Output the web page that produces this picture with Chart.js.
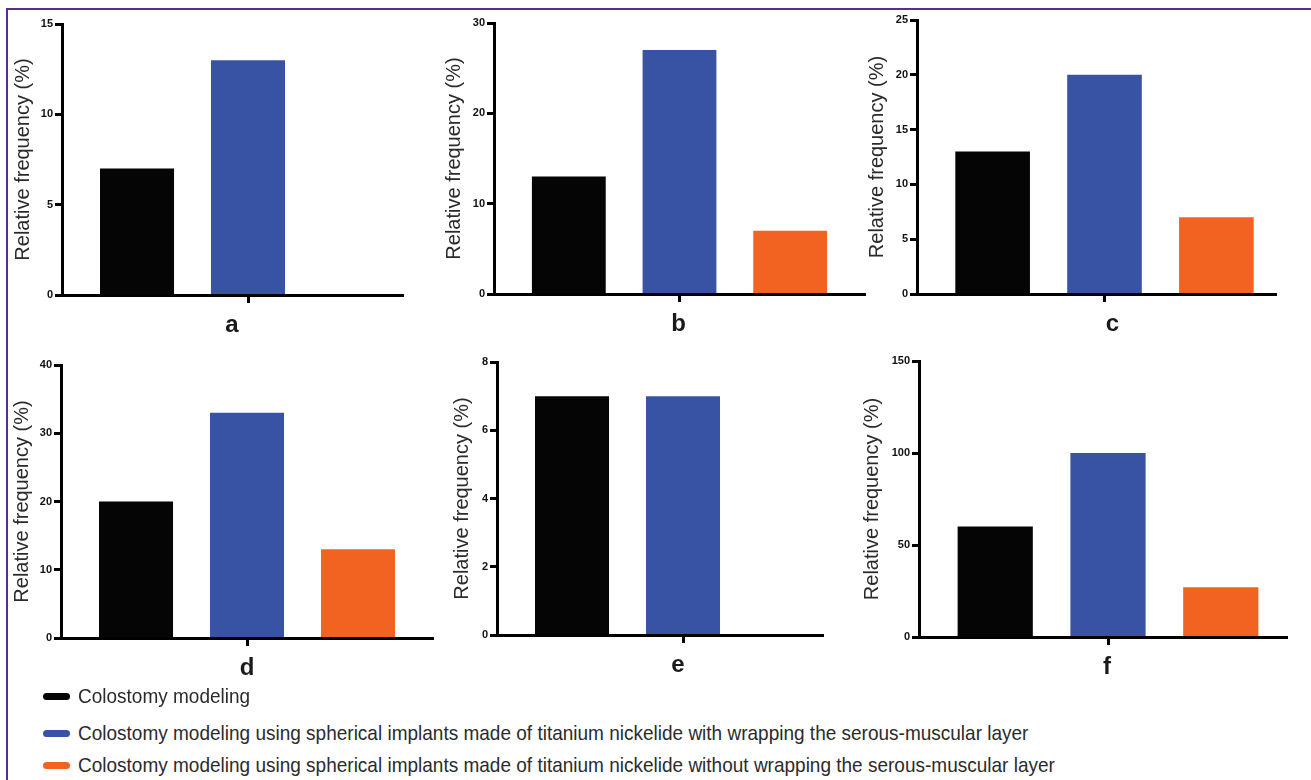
<!DOCTYPE html>
<html><head><meta charset="utf-8">
<script src="https://cdn.jsdelivr.net/npm/chart.js@4.4.1/dist/chart.umd.min.js"></script>
<style>
html,body{margin:0;padding:0;background:#fff;width:1311px;height:780px;overflow:hidden;position:relative;font-family:'Liberation Sans',Arial,sans-serif;}
#frame{position:absolute;left:6px;top:8px;width:1400px;height:900px;border:2.5px solid #5b2d8e;box-sizing:border-box;}
.clip{position:absolute;overflow:hidden;}
.clip canvas{position:absolute;left:0;top:0;}
.leg{position:absolute;left:43px;height:24px;display:flex;align-items:center;font-size:19px;color:#2b2b2b;white-space:nowrap;}
.leg .tx{display:inline-block;transform:scaleY(1.1);transform-origin:left center;}
.sw{display:inline-block;width:27px;height:7px;border-radius:3.5px;margin-right:8px;}
</style></head><body>
<div id="frame"></div>
<div id="panels"></div>
<div id="legend"></div>
<script>
// ---- data ----
const panelLetters = ['a', 'b', 'c', 'd', 'e', 'f'];
const seriesNames = [
  'Colostomy modeling',
  'Colostomy modeling using spherical implants made of titanium nickelide with wrapping the serous-muscular layer',
  'Colostomy modeling using spherical implants made of titanium nickelide without wrapping the serous-muscular layer'
];
const colostomyModeling = [7, 13, 13, 20, 7, 60];
const withWrapping      = [13, 27, 20, 33, 7, 100];
const withoutWrapping   = [null, 7, 7, 13, null, 27];
const yAxisMax  = [15, 30, 25, 40, 8, 150];
const yAxisStep = [5, 10, 5, 10, 2, 50];
const yAxisTitle = 'Relative frequency (%)';

// ---- style / layout ----
const seriesColors = ['#050505', '#3853a4', '#f26322'];
const axisX   = [62, 494, 917, 61, 497, 919];
const topY    = [24, 23, 20, 365, 362, 361];
const zeroY   = [295, 294, 294, 638, 635, 637];
const centerX = [248, 679.5, 1104.5, 247, 683, 1108];
const clipRight = [404, 867, 1277, 436, 824, 1288];
const titlePad  = [9, 8, 8, 9.5, 13, 1.5];
const labelShift = [-16, -1, 8, 0, -5, -1];
const legendRowY = [696, 733, 765];

const FONT = "'Liberation Sans', Arial, sans-serif";
const YW = 60, XH = 50, PT = 10;
const seriesValues = [colostomyModeling, withWrapping, withoutWrapping];

const panels = document.getElementById('panels');
panelLetters.forEach((letter, i) => {
  const cLeft = axisX[i] - YW;
  const cTop = topY[i] - PT;
  const cW = YW + 2 * (centerX[i] - axisX[i]) + 2;
  const cH = PT + (zeroY[i] - topY[i]) + XH;
  const clip = document.createElement('div');
  clip.className = 'clip';
  clip.style.left = cLeft + 'px';
  clip.style.top = cTop + 'px';
  clip.style.width = (clipRight[i] - cLeft) + 'px';
  clip.style.height = cH + 'px';
  const cv = document.createElement('canvas');
  cv.width = Math.round(cW); cv.height = cH;
  cv.style.width = Math.round(cW) + 'px'; cv.style.height = cH + 'px';
  clip.appendChild(cv);
  panels.appendChild(clip);

  new Chart(cv, {
    type: 'bar',
    data: {
      labels: [letter],
      datasets: seriesNames.map((n, k) => ({
        label: n,
        data: [seriesValues[k][i]],
        backgroundColor: seriesColors[k],
        borderWidth: 0
      }))
    },
    options: {
      responsive: false,
      animation: false,
      devicePixelRatio: 1,
      layout: { padding: { top: PT, left: 0, right: 2, bottom: 0 } },
      plugins: { legend: { display: false }, tooltip: { enabled: false } },
      datasets: { bar: { categoryPercentage: 0.895, barPercentage: 0.667 } },
      scales: {
        x: {
          type: 'category',
          offset: true,
          grid: { offset: false, drawOnChartArea: false, drawTicks: true, tickLength: 8, tickWidth: 3, tickColor: '#000', z: 1 },
          border: { display: true, color: '#000', width: 3, z: 1 },
          ticks: { font: { family: FONT, size: 24, weight: 'bold' }, color: '#1a1a1a', padding: 8, labelOffset: labelShift[i] },
          afterFit: s => { s.height = XH; }
        },
        y: {
          min: 0,
          max: yAxisMax[i],
          ticks: { stepSize: yAxisStep[i], font: { family: FONT, size: 11, weight: 'bold' }, color: '#111', padding: 2 },
          grid: { drawOnChartArea: false, drawTicks: true, tickLength: 7, tickWidth: 3, tickColor: '#000', z: 1 },
          border: { display: true, color: '#000', width: 3, z: 1 },
          title: { display: true, text: yAxisTitle, font: { family: FONT, size: 20, weight: 'normal' }, color: '#2a2a2a', padding: { top: titlePad[i], bottom: 0 } },
          afterFit: s => { s.width = YW; }
        }
      }
    }
  });
});

const legend = document.getElementById('legend');
seriesNames.forEach((n, k) => {
  const row = document.createElement('div');
  row.className = 'leg';
  row.style.top = (legendRowY[k] - 12) + 'px';
  const sw = document.createElement('span');
  sw.className = 'sw';
  sw.style.background = seriesColors[k];
  const tx = document.createElement('span');
  tx.className = 'tx';
  tx.textContent = n;
  row.appendChild(sw); row.appendChild(tx);
  legend.appendChild(row);
});
</script>
</body></html>
